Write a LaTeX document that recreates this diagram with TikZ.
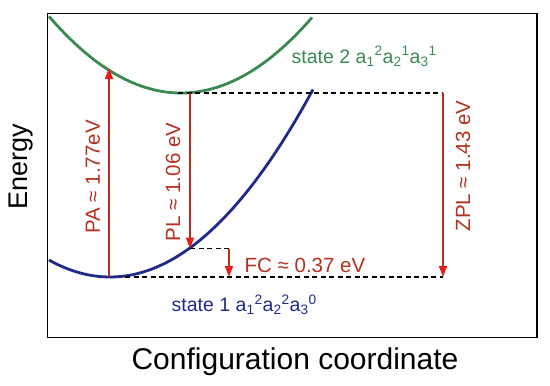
\documentclass[tikz,border=0pt]{standalone}
\usepackage{fontspec}
\setmainfont{Liberation Sans}
\usetikzlibrary{arrows.meta}
\definecolor{SGreen}{HTML}{3A8A52}
\definecolor{SBlue}{HTML}{1F2A8A}
\definecolor{SRed}{HTML}{B5301E}
\definecolor{SHead}{HTML}{E3211A}
\tikzset{
  curve/.style={line width=2.8pt},
  trans/.style={draw=SRed,line width=1.8pt,
                -{Triangle[length=11pt,width=8pt,color=SHead]}},
  guide/.style={dash pattern=on 5pt off 3.5pt,line width=1.1pt},
  lbl/.style={text=SRed,inner sep=0pt,font=\fontsize{20.5}{21}\selectfont},
  statelbl/.style={inner sep=0pt,anchor=base west,font=\fontsize{19.5}{20}\selectfont},
}

\begin{document}
\begin{tikzpicture}[x=1pt,y=-1pt]
    \useasboundingbox (0,0) rectangle (550,386);
    \draw[line width=1.4pt] (47.5,13.5) rectangle (537,337.5);

    % potential curves
    \draw[curve,SGreen] plot[domain=49:312,samples=60,smooth]
      (\x,{93-0.44*((\x-181)/10)^2});
    \draw[curve,SBlue] plot[domain=49:313,samples=60,smooth]
      (\x,{277-0.455*((\x-110)/10)^2});

    % end points
    \coordinate (paBot)  at (109,277);
    \coordinate (paTop)  at (109,68);
    \coordinate (plTop)  at (190,93);
    \coordinate (plBot)  at (190,248.5);
    \coordinate (fcTop)  at (229,248.5);
    \coordinate (fcBot)  at (229,277);
    \coordinate (zplTop) at (443,93);
    \coordinate (zplBot) at (443,277);
    \coordinate (topL)   at (178,93);
    \coordinate (botL)   at (125,277);

    \draw[guide] (topL) -- (zplTop);
    \draw[guide] (plBot) -- (fcTop);
    \draw[guide] (botL) -- (zplBot);

    \draw[trans] (paBot) -- (paTop);
    \draw[trans] (plTop) -- (plBot);
    \draw[trans] (fcTop) -- (fcBot);
    \draw[trans] (zplTop) -- (zplBot);

    \node[lbl,rotate=90] (pa)  at (93,177)  {PA ≈ 1.77eV};
    \node[lbl,rotate=90] (pl)  at (173,182) {PL ≈ 1.06 eV};
    \node[lbl,rotate=90] (zpl) at (463,166) {ZPL ≈ 1.43 eV};
    \node[lbl] (fc) at (305,265) {FC ≈ 0.37 eV};

    \node[statelbl,text=SGreen] (s2) at (291.5,63.3)
      {state 2 a\textsubscript{1}\textsuperscript{2}a\textsubscript{2}\textsuperscript{1}a\textsubscript{3}\textsuperscript{1}};
    \node[statelbl,text=SBlue] (s1) at (171.5,311.7)
      {state 1 a\textsubscript{1}\textsuperscript{2}a\textsubscript{2}\textsuperscript{2}a\textsubscript{3}\textsuperscript{0}};

    % axis titles
    \node[rotate=90,inner sep=0pt,font=\fontsize{27}{28}\selectfont] (energy) at (21,167) {Energy};
    \node[inner sep=0pt,font=\fontsize{30}{31}\selectfont] (config) at (295,362) {Configuration coordinate};
  \end{tikzpicture}
\end{document}
